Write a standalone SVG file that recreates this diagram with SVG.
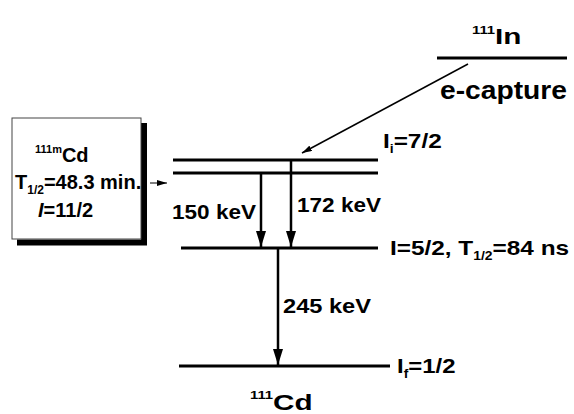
<svg xmlns="http://www.w3.org/2000/svg" width="574" height="414" viewBox="0 0 574 414">
<style>
text{font-family:"Liberation Sans",Arial,sans-serif;font-weight:bold;fill:#000}
.t{font-size:21px}
.b{font-size:20px}
.s{font-size:12px}
.ss{font-size:11px}
.lvl{stroke:#000;stroke-width:3;fill:none}
.g{stroke:#000;stroke-width:2.5;fill:none}
.thin{stroke:#000;stroke-width:1.5;fill:none}
</style>
<defs>
<marker id="ah" viewBox="0 0 16 10" refX="16" refY="5" markerUnits="userSpaceOnUse" markerWidth="16" markerHeight="10" orient="auto"><path d="M0,0 L16,5 L0,10 Z" fill="#000"/></marker>
<marker id="sm" viewBox="0 0 10 6" refX="10" refY="3" markerUnits="userSpaceOnUse" markerWidth="10" markerHeight="6" orient="auto"><path d="M0,0 L10,3 L0,6 Z" fill="#000"/></marker>
</defs>
<g id="box111mCd">
<path d="M144,123 V242.5 H17" fill="none" stroke="#000" stroke-width="6"/>
<rect x="12" y="118" width="129" height="121" fill="#fff" stroke="#444" stroke-width="1"/>
<text x="35" y="162"><tspan class="ss" dy="-9">111m</tspan><tspan class="b" dy="9">Cd</tspan></text>
<text x="15" y="189" class="b">T<tspan class="s" dy="5">1/2</tspan><tspan dy="-5">=48.3 min.</tspan></text>
<text x="38" y="217" class="b"><tspan font-style="italic">I</tspan>=11/2</text>
</g>
<g id="In111">
<text transform="translate(472,44) scale(1.35,1)"><tspan class="ss" dy="-10">111</tspan><tspan font-size="22" dy="10">In</tspan></text>
<line class="lvl" x1="437" y1="58" x2="567" y2="58"/>
<text x="440" y="99" font-size="25" textLength="127" lengthAdjust="spacingAndGlyphs">e-capture</text>
</g>
<g id="level-i">
<line class="lvl" x1="173" y1="160" x2="378" y2="160"/>
<line class="lvl" x1="173" y1="173" x2="378" y2="173"/>
<text class="t" transform="translate(383,148) scale(1.16,1)">I<tspan class="s" dy="5">i</tspan><tspan dy="-5">=7/2</tspan></text>
</g>
<g id="level-mid">
<line class="lvl" x1="181" y1="248" x2="378" y2="248"/>
<text class="t" transform="translate(390,255) scale(1.16,1)">I=5/2, T<tspan class="s" dy="5">1/2</tspan><tspan dy="-5">=84 ns</tspan></text>
</g>
<g id="level-f">
<line class="lvl" x1="179" y1="366" x2="390" y2="366"/>
<text class="t" transform="translate(397,373) scale(1.14,1)">I<tspan class="s" dy="5">f</tspan><tspan dy="-5">=1/2</tspan></text>
<text transform="translate(250,410) scale(1.35,1)"><tspan class="ss" dy="-11">111</tspan><tspan font-size="22" dy="11">Cd</tspan></text>
</g>
<g id="connectors">
<line class="thin" x1="468" y1="64" x2="302" y2="153" marker-end="url(#sm)"/>
<line x1="150" y1="183" x2="167" y2="183" stroke="#000" stroke-width="1" marker-end="url(#sm)"/>
<line class="g" x1="261" y1="173" x2="261" y2="247" marker-end="url(#ah)"/>
<line class="g" x1="291" y1="160" x2="291" y2="247" marker-end="url(#ah)"/>
<line class="g" x1="278" y1="248" x2="278" y2="365" marker-end="url(#ah)"/>
<text x="172" y="219" class="t" textLength="84" lengthAdjust="spacingAndGlyphs">150 keV</text>
<text x="297" y="212" class="t" textLength="84" lengthAdjust="spacingAndGlyphs">172 keV</text>
<text x="283" y="313" class="t" textLength="88" lengthAdjust="spacingAndGlyphs">245 keV</text>
</g>
</svg>
